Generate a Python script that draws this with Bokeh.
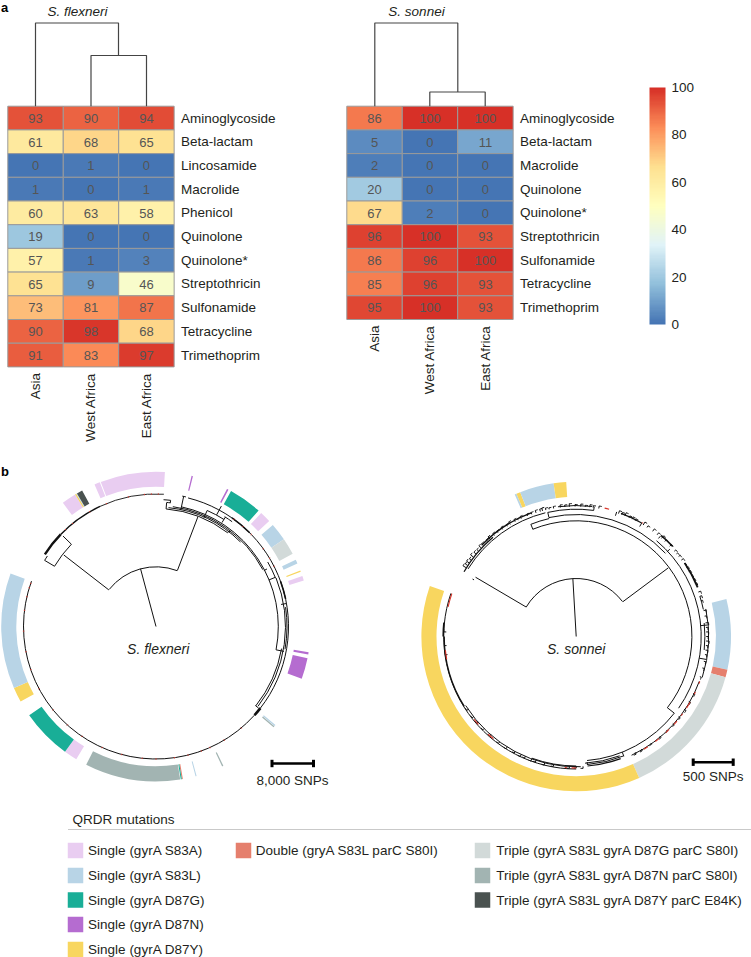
import numpy as np
from bokeh.plotting import figure
from bokeh.models import ColorBar, LinearColorMapper, FixedTicker, ColumnDataSource
from bokeh.core.properties import value
from bokeh.embed import file_html
from bokeh.resources import INLINE

# ---------- data: heatmaps ----------
regions = ["Asia", "West Africa", "East Africa"]
flex_classes = ["Aminoglycoside", "Beta-lactam", "Lincosamide", "Macrolide", "Phenicol", "Quinolone",
                "Quinolone*", "Streptothricin", "Sulfonamide", "Tetracycline", "Trimethoprim"]
flex_values = [[93, 90, 94], [61, 68, 65], [0, 1, 0], [1, 0, 1], [60, 63, 58], [19, 0, 0],
               [57, 1, 3], [65, 9, 46], [73, 81, 87], [90, 98, 68], [91, 83, 97]]
son_classes = ["Aminoglycoside", "Beta-lactam", "Macrolide", "Quinolone", "Quinolone*", "Streptothricin",
               "Sulfonamide", "Tetracycline", "Trimethoprim"]
son_values = [[86, 100, 100], [5, 0, 11], [2, 0, 0], [20, 0, 0], [67, 2, 0], [96, 100, 93],
              [86, 96, 100], [85, 96, 93], [95, 100, 93]]
ramp_stops = ["#4575B4", "#91BFDB", "#E0F3F8", "#FFFFBF", "#FEE090", "#FC8D59", "#D73027"]
cbar_ticks = [0, 20, 40, 60, 80, 100]

# ---------- data: mutations ----------
mut_names = ["Single (gyrA S83A)", "Single (gyrA S83L)", "Single (gyrA D87G)", "Single (gyrA D87N)",
             "Single (gyrA D87Y)", "Double (gryA S83L parC S80I)", "Triple (gyrA S83L gyrA D87G parC S80I)",
             "Triple (gyrA S83L gyrA D87N parC S80I)", "Triple (gyrA S83L gyrA D87Y parC E84K)"]
mut_colors = ["#E9CDF1", "#B8D4E6", "#19AE97", "#B56CD0", "#F8D65F", "#E57F6D", "#D2DAD9", "#A2B4B2", "#4A5250"]

# ring arcs: mutation index, start, end (degrees clockwise from north)
flex_ring = [(0, -23.4, -21.3), (0, -20.9, 3.3), (0, -37, -31.5), (4, -31.5, -31), (1, -31, -30.7), (8, -30.7, -28.5),
             (3, 13.3, 13.8), (3, 27.3, 27.9), (2, 29, 41.5), (0, 42.8, 47), (1, 49, 55.7), (6, 55.7, 62),
             (1, 64.5, 66), (4, 68.8, 69.3), (0, 71, 72.7), (3, 99.6, 100.4), (3, 101.8, 109.7),
             (1, 129.5, 130), (7, 130.1, 130.6), (7, 154.2, 154.7), (1, 164.8, 165.2),
             (5, 170, 170.4), (2, 170.4, 170.8), (7, 171, 206.8), (0, 211, 216), (2, 216, 235),
             (4, 241, 246.6), (1, 246.6, 290)]
son_ring = [(1, -23.4, -22.7), (4, -22.7, -21.2), (1, -21.2, -8.4), (4, -8.4, -3.7),
            (1, 76, 102.4), (5, 102.4, 105.3), (6, 105.3, 156), (4, 156, 289)]

# ---------- data: trees (radius, degrees clockwise from north) ----------
flex_arcs = [(59.7, -51.6, 20.7, 1), (118, -59.3, -45.8, 1), (129.5, -59.3, -57, 1), (118, 4.9, 37.5, 1),
             (119.5, 6, 45, 1), (121, 8, 62, 1), (122.3, 12, 101, 1), (127, 3.4, 6.6, 1), (124.5, 5, 6.7, 1),
             (133, 11.4, 13, 1), (126.8, 23.8, 32.4, 1), (129.5, 32, 36, 1), (129, 60, 68, 1),
             (129.5, 68, 128, 1), (127.5, 100, 128.5, 1), (131, 81.5, 100, 1),
             (132.5, -57, -46, 2.4), (132.5, -46, -25, 1.4), (132.5, -25, 3.4, 0.9), (132.5, 14, 128, 1),
             (132.5, 128, 132, 2.6), (132.5, 132, 290, 1), (132.5, 35, 45, 1.6), (132.5, 70, 78, 1.6)]
flex_spokes = [(0, 59.7, -15), (59.7, 116.8, -52.2), (118, 129.5, -59.3), (118, 129.7, -45.8), (59.9, 118, 20.9),
               (127, 124.5, 6.6), (124.5, 118, 4.9), (119.4, 133, 12), (126.8, 119, 23.8), (129.6, 123, 32.4),
               (127, 137, 28.5), (119, 121, 37.7), (121.5, 125, 62.6), (122.3, 130.4, 101), (127, 131, 128.5),
               (129, 122, 67.6), (132, 127, 80)]
flex_red = [-43, -39, -30, -22, -12, -5, -2, 1, 36, 41, 46, 54, 59, 63, 140, 149, 156, 160, 166, 172, 180, 186,
            195, 204, 214, 222, 231, 242, 251, 259, 268, 277, 283, 287, 289]

son_arcs = [(58, -59.4, 53, 1), (115.7, -22, 128, 1), (121, -22, -12.9, 1), (122, -12.9, 47, 1), (125, 40, 125, 1),
            (127.3, -12.9, 7.9, 1), (124.5, 128, 175, 1), (128.5, 158.3, 175, 1), (127, 160, 176, 1),
            (127.5, -58, -14, 1), (129.5, -60, -40, 1.3),
            (132.5, 180, 289, 1), (130.3, 178, 238, 1), (132, 238, 270, 1.3), (133, 270, 276, 1.6),
            (131, 110, 155, 1), (129.5, 180, 200, 1), (131.5, -46, -20, 1.4), (132, 40, 47, 1.6), (131, 56, 68, 1.8),
            (132.5, 78, 108, 1), (128.7, 84, 96, 1), (130, 72, 78, 1), (131, -8, 7, 1), (131, 20, 30, 1.2), (130, 160, 175, 1.2)]
son_spokes = [(0, 57.8, -3.3), (58, 116.8, -59.5), (58.3, 114.8, 53.3), (115.5, 121, -22), (115.6, 124.5, 128),
              (122, 127.3, -12.9), (124, 128, 47), (126, 129, 175), (128.9, 124.5, 158.3), (127.3, 131, 7.9),
              (116.8, 118.5, -61), (125, 132, 85), (125, 132, 100), (127, 131, 18), (127, 131, 30), (128, 131, 40)]
son_stub_ang = [-58, -56.8, -55.5, -54, -52.3, -50.5, -48.8, -47, -45.5, -43, -41.5, -39, -37, -34.5, -32, -30.5,
                -28, -26.5, -25, -22, -20, -18, -16, -15, -13.5, -12, -10, -7, -5, -3, -0.5, 2, 4, 6, 7.5, 10,
                19, 20.5, 22, 24, 25.5, 27, 31, 33, 36, 38.5, 41, 43, 46, 49, 50.5, 52, 54, 56, 58, 60, 62, 64,
                66, 70, 72, 74, 78.5, 81, 84, 86, 88, 90, 92, 94, 96, 98, 101, 104, 108,
                116, 120, 124, 128, 132, 136, 140, 145, 150, 153, 177, 180, 183, 190, 194, 198, 200, 203, 205,
                208, 212, 216, 221, 225, 229, 232, 236, 262, 266, 272]
son_stub_len = [3.5, 2.5, 3, 2, 3.5, 2.5, 2, 3, 2.5, 2, 3, 2.5, 2, 2.5, 2, 3, 2.5, 1.5, 2.5, 2, 2, 2.5, 2.5, 3, 2, 1.5, 2, 2.5, 2, 3, 2, 2.5, 1.5, 2.5, 2, 2.5,
                3, 2.5, 3.5, 2, 2.5, 2, 3.5, 2, 3, 2.5, 3.5, 2, 2.5, 2, 1.5, 2, 2.5, 1.5, 2, 2, 1.5, 2,
                2, 2.5, 2, 1.5, 2.5, 2, 3, 2, 2.5, 2, 3, 2, 2.5, 2, 2, 2, 1.5,
                2, 2, 2.5, 2, 2, 1.5, 2, 1.5, 2, 2, 2, 1.5, 2, 2, 2.5, 2, 2.5, 2, 2.5,
                2, 2.5, 2, 2, 2, 1.5, 2, 2, 2, 2, 2.5]
son_red = [(12.5, 14.5), (30, 30.6), (110, 111), (115, 116), (120, 123), (126, 127), (130, 132), (135, 137), (141, 143), (147, 149),
           (180, 182), (184, 185), (219, 222), (228, 231), (260, 264), (283, 289)]

# ---------- layout (page pixels) ----------
H = 957
def Y(px):
    return H - np.asarray(px, dtype=float)
def X(px):
    return np.asarray(px, dtype=float)

FONT = value("Liberation Sans")
p = figure(width=751, height=H, x_range=(0, 751), y_range=(0, H), x_axis_type=None, y_axis_type=None,
           toolbar_location=None, output_backend="svg", min_border=0, outline_line_color=None,
           background_fill_color="white", border_fill_color="white")
p.grid.visible = False

def label(x, y, t, size="13.5px", color="#231F20", align="left", style="normal", angle=0, baseline="middle"):
    t = [t] if isinstance(t, str) else list(t)
    n = len(t)
    p.text(x=X(np.broadcast_to(x, (n,))), y=Y(np.broadcast_to(y, (n,))), text=t, text_font=FONT, text_font_size=size,
           text_color=color, text_align=align, text_baseline=baseline, text_font_style=style, angle=angle)

def ramp_palette(stops, n=100):
    rgb = np.array([[int(s[i:i + 2], 16) for i in (1, 3, 5)] for s in stops], dtype=float)
    pos = np.linspace(0, len(stops) - 1, n)
    arr = np.stack([np.interp(pos, np.arange(len(stops)), rgb[:, c]) for c in range(3)], axis=1)
    return ["#%02X%02X%02X" % tuple(int(round(v)) for v in row) for row in arr]

mapper = LinearColorMapper(palette=ramp_palette(ramp_stops), low=0, high=100)

def heatmap(x0, y0, classes, vals, cw=55.45, ch=23.7):
    v = np.array(vals, dtype=float)
    cols, rows = np.meshgrid(np.arange(v.shape[1]), np.arange(v.shape[0]))
    cx = x0 + (cols.ravel() + .5) * cw
    cy = y0 + (rows.ravel() + .5) * ch
    src = ColumnDataSource(dict(x=X(cx), y=Y(cy), v=v.ravel()))
    p.rect("x", "y", width=cw, height=ch, source=src, fill_color={"field": "v", "transform": mapper},
           line_color="#9A9A9A", line_width=1)
    label(cx, cy + .3, [str(int(n)) for n in v.ravel()], size="13px", color="#555555", align="center")
    label(x0 + 3 * cw + 6.8, y0 + (np.arange(len(classes)) + .5) * ch, classes)
    bottom = y0 + len(classes) * ch
    label(x0 + (np.arange(3) + .5) * cw, np.full(3, bottom + 6), regions, align="right", angle=np.pi / 2)

heatmap(7.3, 105.7, flex_classes, flex_values)
heatmap(346.3, 105.7, son_classes, son_values)

def dendro(xs, ys):
    p.multi_line(xs=[list(X(x)) for x in xs], ys=[list(Y(y)) for y in ys], line_color="#444444", line_width=1.2)

dendro([[35, 35, 118, 118], [90.5, 90.5, 146, 146]], [[105.7, 22.5, 22.5, 55], [105.7, 55, 55, 105.7]])
dendro([[374.3, 374.3, 457.3, 457.3], [429.3, 429.3, 484.7, 484.7]], [[105.7, 22.5, 22.5, 91.5], [105.7, 91.5, 91.5, 105.7]])

label(77, 10.5, "S. flexneri", style="italic", align="center")
label(416, 10.5, "S. sonnei", style="italic", align="center")
label(0.5, 6.5, "a", size="13px", style="bold", color="#000000")
label(0.5, 471, "b", size="13px", style="bold", color="#000000")

cb = ColorBar(color_mapper=mapper, ticker=FixedTicker(ticks=cbar_ticks), width=16, height=237, location=(649, H - 324),
              padding=0, margin=0, major_tick_line_color=None, minor_tick_line_color=None, bar_line_color=None,
              border_line_color=None, background_fill_color=None, major_label_text_font="Liberation Sans",
              major_label_text_font_size="13.5px", major_label_text_color="#231F20", label_standoff=6)
p.add_layout(cb)

# ---------- circular panels ----------
def math(a):
    return np.radians(90 - np.asarray(a, dtype=float))

def ring(cx, cy, segs, r0=139.7, r1=154.8):
    idx, a0, a1 = zip(*segs)
    p.annular_wedge(x=list(X([cx] * len(idx))), y=list(Y([cy] * len(idx))), inner_radius=r0, outer_radius=r1,
                    start_angle=math(a1), end_angle=math(a0), direction="anticlock",
                    fill_color=[mut_colors[i] for i in idx], line_color=None)

def arcs(cx, cy, items, color="#111111"):
    for r, a0, a1, w in items:
        if w > 0:
            p.arc(x=list(X([cx])), y=list(Y([cy])), radius=r, start_angle=math(a1), end_angle=math(a0), direction="anticlock",
                  line_color=color, line_width=w)

def spokes(cx, cy, items, color="#111111", w=1):
    r0, r1, a = (np.array(c, dtype=float) for c in zip(*items))
    t = math(a)
    yc = Y(cy)
    xc = X(cx)
    p.segment(x0=xc + r0 * np.cos(t), y0=yc + r0 * np.sin(t), x1=xc + r1 * np.cos(t), y1=yc + r1 * np.sin(t),
              line_color=color, line_width=w)

FX, FY, SX, SY = 155.5, 626, 575.7, 636
ring(FX, FY, flex_ring)
arcs(FX, FY, flex_arcs)
spokes(FX, FY, flex_spokes)
spokes(FX, FY, [(131.8, 133.2, a) for a in flex_red], color="#D8352A", w=1)

ring(SX, SY, son_ring)
arcs(SX, SY, son_arcs)
spokes(SX, SY, son_spokes)
spokes(SX, SY, [(130, 130 + l, a) for a, l in zip(son_stub_ang, son_stub_len)], w=1)
arcs(SX, SY, [(130 + l, a, a + 1.1, 1) for a, l in zip(son_stub_ang, son_stub_len)])
arcs(SX, SY, [(131.5, a0, a1, 1.1) for a0, a1 in son_red], color="#D8352A")

label(157.7, 648, "S. flexneri", style="italic", size="14px", align="center")
label(575.7, 648, "S. sonnei", style="italic", size="14px", align="center")

# ---------- scale bars ----------
bar_labels = ["8,000 SNPs", "500 SNPs"]
bar_x0, bar_x1, bar_y, bar_ty = [271.5, 692.7], [313, 732.7], [763, 761.7], [780, 776]
p.segment(x0=X(bar_x0), y0=Y(bar_y), x1=X(bar_x1), y1=Y(bar_y), line_color="black", line_width=2.6)
for xx in (bar_x0, bar_x1):
    p.segment(x0=X(xx), y0=Y(bar_y) - 3.7, x1=X(xx), y1=Y(bar_y) + 3.7, line_color="black", line_width=3)
label([292, 712.7], bar_ty, bar_labels, align="center")

# ---------- legend ----------
label(72, 819, "QRDR mutations")
p.segment(x0=X([67.5]), y0=Y([829]), x1=X([751]), y1=Y([829]), line_color="#C9C9C9", line_width=1)
sw_x = [75, 75, 75, 75, 75, 243, 482, 482, 482]
sw_y = [850, 875, 899.5, 924, 949, 850, 850, 875, 899.5]
tx_x = [87.6, 87.6, 87.6, 87.6, 87.6, 255.3, 495.7, 495.7, 495.7]
p.rect(x=X(sw_x), y=Y(sw_y), width=15.5, height=15.5, fill_color=mut_colors, line_color=None)
label(tx_x, sw_y, mut_names)

open("out.html", "w").write(file_html(p, INLINE))
